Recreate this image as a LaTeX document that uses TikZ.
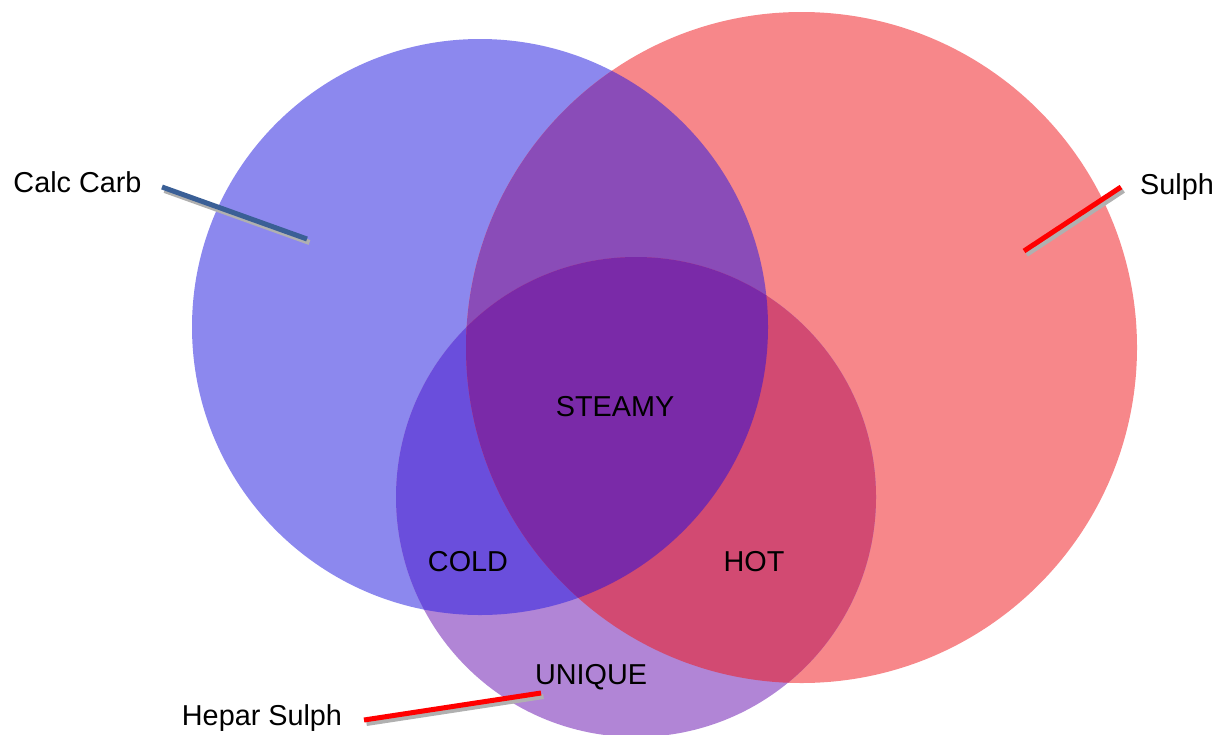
\documentclass[tikz,border=0pt]{standalone}
\usepackage{fontspec}
\setmainfont{Liberation Sans}
\definecolor{cblue}{RGB}{140,136,238}
\definecolor{cred}{RGB}{247,135,138}
\definecolor{cpurp}{RGB}{177,133,214}
\definecolor{cbr}{RGB}{138,76,184}
\definecolor{cbp}{RGB}{106,78,220}
\definecolor{crp}{RGB}{210,74,114}
\definecolor{call}{RGB}{122,42,168}
\definecolor{lineblue}{RGB}{58,95,150}
\definecolor{shadowgray}{RGB}{176,176,176}
\begin{document}
\begin{tikzpicture}[x=1pt,y=-1pt,
  lbl/.style={font=\fontsize{28.8}{32}\selectfont, anchor=base, inner sep=0pt},
  leader/.style={line width=5pt},
  shadowline/.style={line width=5pt, draw=shadowgray}]
\useasboundingbox (0,0) rectangle (1217,734);
\def\bluec{(480,327) circle (288)}
\def\redc{(801.5,347.5) circle (335.5)}
\def\purpc{(636,497) circle (240)}
\fill[cblue] \bluec;
\fill[cred] \redc;
\fill[cpurp] \purpc;
\begin{scope}
  \clip \bluec;
  \fill[cbr] \redc;
  \fill[cbp] \purpc;
\end{scope}
\begin{scope}
  \clip \redc;
  \fill[crp] \purpc;
\end{scope}
\begin{scope}
  \clip \bluec;
  \clip \redc;
  \fill[call] \purpc;
\end{scope}
% labels
\node[lbl] (calc) at (77.5,192) {Calc Carb};
\node[lbl] (sulph) at (1177,194) {Sulph};
\node[lbl] (hepar) at (262,725) {Hepar Sulph};
\node[lbl] (unique) at (591,684) {UNIQUE};
\node[lbl] (cold) at (468,571) {COLD};
\node[lbl] (hot) at (754,571) {HOT};
\node[lbl] (steamy) at (615,416) {STEAMY};
% leader lines
\coordinate (c1) at (162,187);
\coordinate (c2) at (307,239);
\coordinate (s1) at (1121,187);
\coordinate (s2) at (1024,251);
\coordinate (h1) at (364,720);
\coordinate (h2) at (541,693);
\draw[shadowline] ([shift={(2.5,3.5)}]c1) -- ([shift={(2.5,3.5)}]c2);
\draw[leader, draw=lineblue] (c1) -- (c2);
\draw[shadowline] ([shift={(2.5,3.5)}]s1) -- ([shift={(2.5,3.5)}]s2);
\draw[leader, draw=red] (s1) -- (s2);
\draw[shadowline] ([shift={(2.5,3.5)}]h1) -- ([shift={(2.5,3.5)}]h2);
\draw[leader, draw=red] (h1) -- (h2);
\end{tikzpicture}
\end{document}
